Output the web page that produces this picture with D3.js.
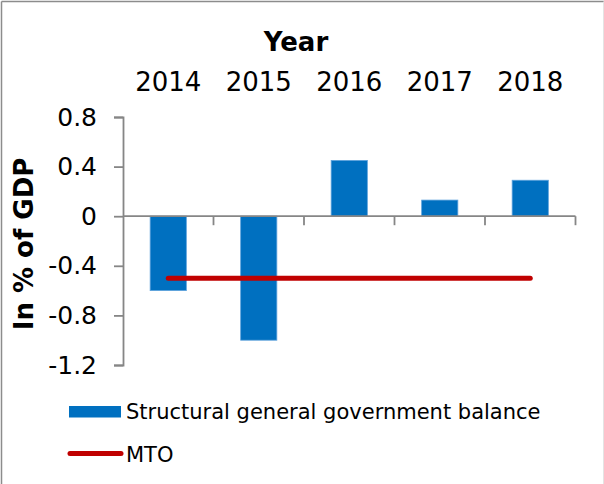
<!DOCTYPE html>
<html>
<head>
<meta charset="utf-8">
<script src="https://cdn.jsdelivr.net/npm/d3@7"></script>
<style>
  html, body { margin: 0; padding: 0; background: #fff; }
  svg { display: block; font-family: "DejaVu Sans", Verdana, sans-serif; }
</style>
</head>
<body>
<script>
// Structural balance vs. medium-term objective (MTO), in % of GDP
const years = ["2014", "2015", "2016", "2017", "2018"];
const structuralBalance = [-0.6, -1.0, 0.45, 0.13, 0.29];
const mto = [-0.5, -0.5, -0.5, -0.5, -0.5];
const yTicks = [0.8, 0.4, 0, -0.4, -0.8, -1.2];
const seriesNames = ["Structural general government balance", "MTO"];

const W = 604, H = 484;
const svg = d3.select("body").append("svg").attr("width", W).attr("height", H);

// outer frame (top and left edges visible, faint right edge)
svg.append("line").attr("x1", 1.5).attr("x2", 1.5).attr("y1", 1.5).attr("y2", H)
  .attr("stroke", "#8c8c8c").attr("stroke-width", 1.5);
svg.append("line").attr("x1", 1.5).attr("x2", W).attr("y1", 1.5).attr("y2", 1.5)
  .attr("stroke", "#8c8c8c").attr("stroke-width", 1.5);
svg.append("line").attr("x1", W - 0.5).attr("x2", W - 0.5).attr("y1", 1.5).attr("y2", H)
  .attr("stroke", "#e4e4e4").attr("stroke-width", 1);

const x = d3.scaleBand().domain(years).range([123, 575.5]).paddingInner(0.6).paddingOuter(0.3);
const y = d3.scaleLinear().domain([-1.2, 0.8]).range([365, 117]);

const axisColor = "#868686";

// bars
svg.append("g").selectAll("rect").data(years).join("rect")
  .attr("x", d => x(d))
  .attr("width", x.bandwidth())
  .attr("y", (d, i) => y(Math.max(0, structuralBalance[i])))
  .attr("height", (d, i) => Math.abs(y(structuralBalance[i]) - y(0)))
  .attr("fill", "#0070C0")
  .attr("stroke", "#5fa3dc").attr("stroke-width", 0.8);

// y axis, labels with a plain hyphen for negatives
const fmt = d => d === 0 ? "0" : (d < 0 ? "-" : "") + Math.abs(d).toFixed(1);
const yAxis = svg.append("g").attr("transform", "translate(123,0)")
  .call(d3.axisLeft(y).tickValues(yTicks).tickSize(9).tickFormat(fmt).tickPadding(17));
yAxis.select(".domain").attr("stroke", axisColor).attr("stroke-width", 1.8);
yAxis.selectAll(".tick line").attr("stroke", axisColor).attr("stroke-width", 1.8);
yAxis.selectAll(".tick text").attr("font-size", 25).attr("fill", "#000")
  .attr("font-family", "DejaVu Sans, Verdana, sans-serif");

// x axis sits on zero; ticks at category boundaries
const step = x.step();
const boundaries = d3.range(years.length + 1).map(i => 123 + i * step);
svg.append("line").attr("x1", 123).attr("x2", boundaries[boundaries.length - 1])
  .attr("y1", y(0)).attr("y2", y(0)).attr("stroke", axisColor).attr("stroke-width", 1.8);
svg.append("g").selectAll("line").data(boundaries.slice(1)).join("line")
  .attr("x1", d => d).attr("x2", d => d)
  .attr("y1", y(0)).attr("y2", y(0) + 9)
  .attr("stroke", axisColor).attr("stroke-width", 1.8);

// category labels across the top
svg.append("g").selectAll("text").data(years).join("text")
  .attr("x", d => x(d) + x.bandwidth() / 2)
  .attr("y", 91)
  .attr("text-anchor", "middle")
  .attr("font-size", 26)
  .text(d => d);

// axis titles
svg.append("text").attr("x", 296).attr("y", 51).attr("text-anchor", "middle")
  .attr("font-size", 26).attr("font-weight", "bold").text("Year");
svg.append("text").attr("transform", "translate(33,244) rotate(-90)")
  .attr("text-anchor", "middle").attr("font-size", 26).attr("font-weight", "bold")
  .text("In % of GDP");

// MTO line
const line = d3.line().x((d, i) => x(years[i]) + x.bandwidth() / 2).y(d => y(d));
svg.append("path").datum(mto).attr("d", line)
  .attr("fill", "none").attr("stroke", "#C00000").attr("stroke-width", 5)
  .attr("stroke-linecap", "round");

// legend
const lg = svg.append("g");
lg.append("rect").attr("x", 69).attr("y", 406).attr("width", 52).attr("height", 11.5)
  .attr("fill", "#0070C0");
lg.append("text").attr("x", 126).attr("y", 419).attr("font-size", 21).text(seriesNames[0]);
lg.append("line").attr("x1", 70).attr("x2", 121).attr("y1", 453.5).attr("y2", 453.5)
  .attr("stroke", "#C00000").attr("stroke-width", 5).attr("stroke-linecap", "round");
lg.append("text").attr("x", 126).attr("y", 462).attr("font-size", 21).text(seriesNames[1]);
</script>
</body>
</html>
